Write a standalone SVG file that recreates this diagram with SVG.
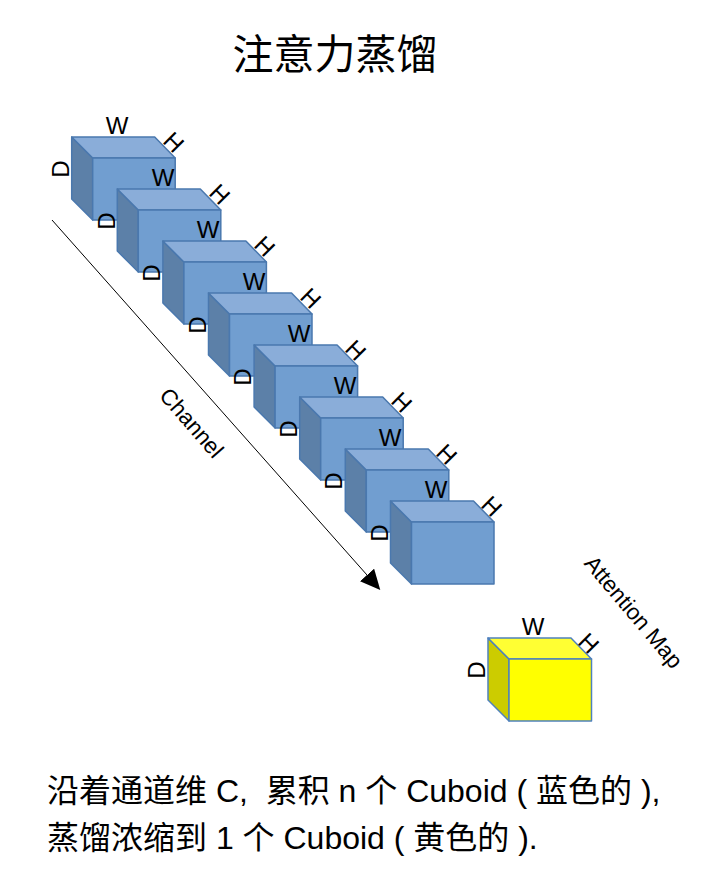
<svg xmlns="http://www.w3.org/2000/svg" xmlns:xlink="http://www.w3.org/1999/xlink" width="725" height="883" viewBox="0 0 725 883">
<style>
text{font-family:"Liberation Sans","Noto Sans CJK SC",sans-serif;fill:#000}
.l{font-size:24px;text-anchor:middle;dominant-baseline:central}
.c{font-size:22.5px;text-anchor:middle;dominant-baseline:central}
.t{font-size:41px;text-anchor:middle}
.b{font-size:32px;white-space:pre}
.f{stroke-width:1.5;stroke-linejoin:round}
.bs{stroke:#4a78ae}
.yf{stroke:#4f81bd}
.bfront{fill:#719ed0}
.btop{fill:#8aadd9}
.bleft{fill:#5c80a8}
.yfront{fill:#ffff00}
.ytop{fill:#ffff33}
.yleft{fill:#cccc00}
</style>
<defs>
<g id="cube">
<polygon class="f bs bleft" points="0,0 21,21 21,83 0,62"/>
<polygon class="f bs btop" points="0,0 83,0 103.5,21 21,21"/>
<polygon class="f bs bfront" points="21,21 103.5,21 103.5,83 21,83"/>
</g>
<g id="ycube">
<polygon class="f yf yleft" points="0,0 21,21 21,83 0,62"/>
<polygon class="f yf ytop" points="0,0 83,0 103.5,21 21,21"/>
<polygon class="f yf yfront" points="21,21 103.5,21 103.5,83 21,83"/>
</g>
<marker id="arrow" markerUnits="userSpaceOnUse" markerWidth="22" markerHeight="20" refX="0" refY="9.5" orient="auto"><path d="M0,0 L20,9.5 L0,19 Z" fill="#000"/></marker>
</defs>
<text class="t" x="335" y="69">注意力蒸馏</text>
<g id="connectors"><line x1="52" y1="220" x2="367" y2="575" stroke="#000" stroke-width="1" marker-end="url(#arrow)"/></g>
<g id="cube1"><use xlink:href="#cube" x="71.7" y="137"/><text class="l" x="117" y="125">W</text><text class="l" transform="translate(174 142) rotate(45)">H</text><text class="l" transform="translate(60 169) rotate(-90)">D</text></g>
<g id="cube2"><use xlink:href="#cube" x="117.3" y="189"/><text class="l" x="163" y="177">W</text><text class="l" transform="translate(220 194) rotate(45)">H</text><text class="l" transform="translate(106 221) rotate(-90)">D</text></g>
<g id="cube3"><use xlink:href="#cube" x="162.9" y="241"/><text class="l" x="208" y="229">W</text><text class="l" transform="translate(265 246) rotate(45)">H</text><text class="l" transform="translate(151 273) rotate(-90)">D</text></g>
<g id="cube4"><use xlink:href="#cube" x="208.5" y="293"/><text class="l" x="254" y="281">W</text><text class="l" transform="translate(311 298) rotate(45)">H</text><text class="l" transform="translate(197 325) rotate(-90)">D</text></g>
<g id="cube5"><use xlink:href="#cube" x="254.1" y="345"/><text class="l" x="299" y="333">W</text><text class="l" transform="translate(356 350) rotate(45)">H</text><text class="l" transform="translate(242 377) rotate(-90)">D</text></g>
<g id="cube6"><use xlink:href="#cube" x="299.7" y="397"/><text class="l" x="345" y="385">W</text><text class="l" transform="translate(402 402) rotate(45)">H</text><text class="l" transform="translate(288 429) rotate(-90)">D</text></g>
<g id="cube7"><use xlink:href="#cube" x="345.3" y="449"/><text class="l" x="390" y="437">W</text><text class="l" transform="translate(447 454) rotate(45)">H</text><text class="l" transform="translate(333 481) rotate(-90)">D</text></g>
<g id="cube8"><use xlink:href="#cube" x="390.5" y="501"/><text class="l" x="436" y="489">W</text><text class="l" transform="translate(492 506) rotate(45)">H</text><text class="l" transform="translate(379 533) rotate(-90)">D</text></g>
<g id="cube-yellow"><use xlink:href="#ycube" x="488" y="638"/><text class="l" x="533" y="626">W</text><text class="l" transform="translate(589 643) rotate(45)">H</text><text class="l" transform="translate(476 670) rotate(-90)">D</text></g>
<text class="c" transform="translate(191.5 423) rotate(49)">Channel</text>
<text class="c" transform="translate(633.5 612) rotate(50)">Attention Map</text>
<text class="b" x="47" y="802">沿着通道维 C,  累积 n 个 Cuboid ( 蓝色的 ),</text>
<text class="b" x="47" y="849">蒸馏浓缩到 1 个 Cuboid ( 黄色的 ).</text>
</svg>
